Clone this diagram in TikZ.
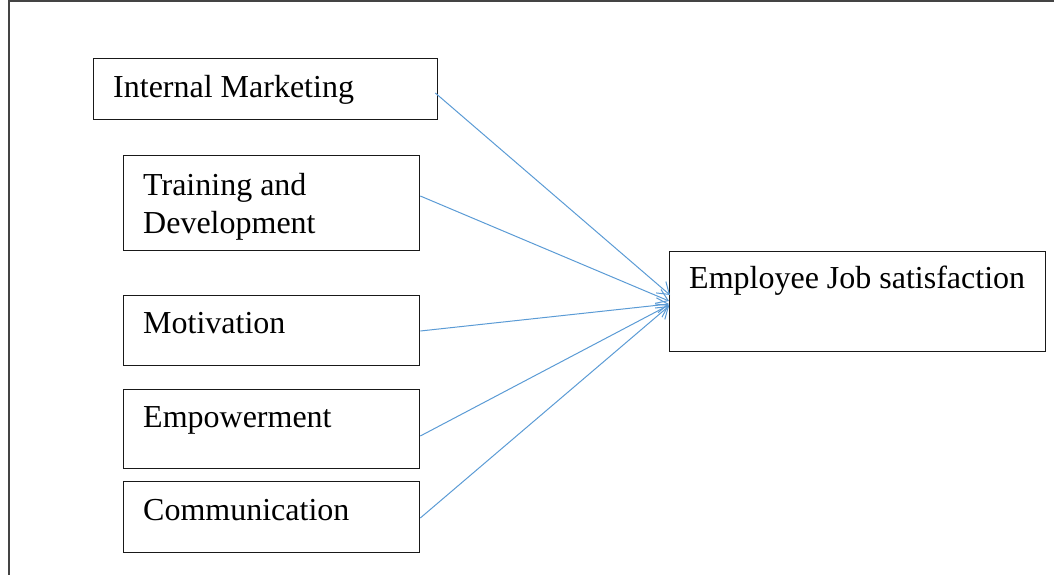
\documentclass[tikz,border=0pt]{standalone}
\usepackage{fontspec}
\setmainfont{Liberation Serif}
\usetikzlibrary{arrows.meta,calc}
\definecolor{linkblue}{HTML}{5B9BD5}
\definecolor{framegray}{HTML}{444444}
\begin{document}
\begin{tikzpicture}[x=1pt,y=-1pt,
  box/.style={draw=black!90,line width=1.3pt,anchor=north west,inner sep=0pt},
  label/.style={anchor=base west,inner sep=0pt,font=\fontsize{32}{38}\selectfont,align=left},
  link/.style={draw=linkblue,line width=1pt,-{Straight Barb[length=11pt,width=15pt,line width=1pt]}}]
  \useasboundingbox (0,0) rectangle (1054,575);
  % page frame: top and left edges only
  \draw[framegray,line width=2pt] (8.5,575) -- (8.5,1.5) -- (1054,1.5);

  % factor boxes
  \node[box,minimum width=344pt,minimum height=61pt] (im) at (93,58) {};
  \node[box,minimum width=296pt,minimum height=95pt] (tr) at (123,155) {};
  \node[box,minimum width=296pt,minimum height=70pt] (mo) at (123,295) {};
  \node[box,minimum width=296pt,minimum height=79pt] (em) at (123,389) {};
  \node[box,minimum width=296pt,minimum height=71pt] (co) at (123,481) {};
  % outcome box
  \node[box,minimum width=376pt,minimum height=100pt] (ejs) at (669,251) {};

  % box texts (base anchor sits on the last line)
  \node[label] (imt) at (113,98) {Internal Marketing};
  \node[label] (trt) at (143,233) {Training and\\Development};
  \node[label] (mot) at (143,333) {Motivation};
  \node[label] (emt) at (143,427) {Empowerment};
  \node[label] (cot) at (143,520) {Communication};
  \node[label] (ejst) at (689,288) {Employee Job satisfaction};

  % arrow start and end points
  \coordinate (s1) at ($(im.north east)+(-3,35)$);
  \coordinate (s2) at ($(tr.north east)+(0,41)$);
  \coordinate (s3) at ($(mo.north east)+(0,36)$);
  \coordinate (s4) at ($(em.north east)+(0,47)$);
  \coordinate (s5) at ($(co.north east)+(0,37)$);
  \coordinate (e1) at ($(ejs.north west)+(1,44)$);
  \coordinate (e2) at ($(ejs.north west)+(0,50)$);
  \coordinate (e3) at ($(ejs.north west)+(0,53)$);
  \coordinate (e4) at ($(ejs.north west)+(0,54)$);
  \coordinate (e5) at ($(ejs.north west)+(0,55)$);

  \draw[link] (s1) -- (e1);
  \draw[link] (s2) -- (e2);
  \draw[link] (s3) -- (e3);
  \draw[link] (s4) -- (e4);
  \draw[link] (s5) -- (e5);
\end{tikzpicture}
\end{document}
